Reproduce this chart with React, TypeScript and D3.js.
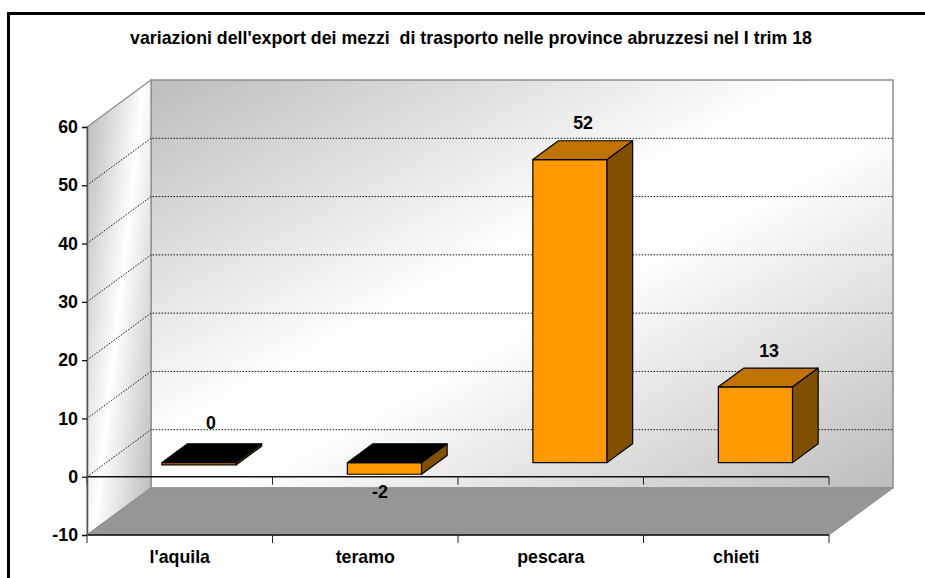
import React, { useEffect, useRef } from "react";
import * as d3 from "d3";

const title = "variazioni dell'export dei mezzi  di trasporto nelle province abruzzesi nel I trim 18";
const categories = ["l'aquila", "teramo", "pescara", "chieti"];
const values = [-0.4, -2, 52, 13];
const yTicks = [-10, 0, 10, 20, 30, 40, 50, 60];

const width = 925;
const height = 578;
const font = "'Liberation Sans', Arial, sans-serif";
const fontSize = 17.75;

// piano frontale e profondita' della scatola 3D
const depthX = 64;
const depthY = -47;
const barGap = 0.3;
const barDepth = 0.4;

const xScale = d3.scaleBand<string>().domain(categories).range([87, 829]).paddingInner(0).paddingOuter(0);
const yScale = d3.scaleLinear().domain([-10, 60]).range([535, 127]);

const pts = (list: number[][]) => list.map((p) => p.join(",")).join(" ");

const YAxis = () => {
  const axisRef = useRef<SVGGElement>(null);

  useEffect(() => {
    const axis = d3.axisLeft(yScale).tickValues(yTicks).tickSize(5).tickPadding(4).tickFormat((d) => String(d));
    const g = d3.select(axisRef.current).call(axis as any);
    g.select(".domain").attr("stroke", "#555").attr("stroke-width", 1.5);
    g.selectAll(".tick line").attr("stroke", "#000").attr("stroke-width", 1.2);
    g.selectAll(".tick text")
      .attr("fill", "#000")
      .style("font", `bold ${fontSize}px ${font}`);
  }, []);

  return <g ref={axisRef} transform="translate(87,0)" />;
};

const Bar = ({ category, value }: { category: string; value: number }) => {
  const band = xScale.bandwidth();
  const barW = band / 2.5;
  const x0 = (xScale(category) as number) + (band - barW) / 2 + depthX * barGap;
  const x1 = x0 + barW;
  const yTop = yScale(Math.max(value, 0)) + depthY * barGap;
  const yBase = yScale(Math.min(value, 0)) + depthY * barGap;
  const dx = depthX * barDepth;
  const dy = depthY * barDepth;
  const negative = value < 0;

  return (
    <g stroke="#000" strokeWidth={1.2} strokeLinejoin="round">
      <polygon points={pts([[x0, yTop], [x1, yTop], [x1, yBase], [x0, yBase]])} fill="#ff9900" />
      <polygon points={pts([[x1, yTop], [x1 + dx, yTop + dy], [x1 + dx, yBase + dy], [x1, yBase]])} fill="#805000" />
      <polygon
        points={pts([[x0, yTop], [x0 + dx, yTop + dy], [x1 + dx, yTop + dy], [x1, yTop]])}
        fill={negative ? "#000" : "#bf7300"}
      />
    </g>
  );
};

const App = () => {
  const left = xScale.range()[0];
  const right = xScale.range()[1];
  const yBottom = yScale(-10);
  const yTopFront = yScale(60);
  const yZero = yScale(0);
  const bandEdges = [left, ...categories.map((c) => (xScale(c) as number) + xScale.bandwidth())];
  const labelPos: Record<string, [number, number]> = {
    "l'aquila": [211, 429],
    teramo: [380, 498],
    pescara: [583, 129],
    chieti: [769, 357],
  };

  return (
    <svg
      width={width}
      height={height}
      style={{ position: "absolute", left: 0, top: 0, background: "#fff" }}
    >
      <defs>
        <linearGradient id="wallBack" x1="0" y1="0" x2="1" y2="1">
          <stop offset="0" stopColor="#bdbdbd" />
          <stop offset="0.45" stopColor="#ffffff" />
          <stop offset="0.55" stopColor="#ffffff" />
          <stop offset="1" stopColor="#bdbdbd" />
        </linearGradient>
        <linearGradient id="wallSide" x1="0" y1="0.1" x2="1" y2="0.9">
          <stop offset="0" stopColor="#bdbdbd" />
          <stop offset="0.5" stopColor="#ffffff" />
          <stop offset="1" stopColor="#bdbdbd" />
        </linearGradient>
      </defs>

      {/* cornice: a destra e in basso esce dall'immagine */}
      <rect x={8.5} y={13.5} width={width + 20} height={height} fill="#fff" stroke="#000" strokeWidth={3} />

      <text
        x={471}
        y={44}
        textAnchor="middle"
        fontFamily={font}
        fontWeight="bold"
        fontSize={fontSize}
        style={{ whiteSpace: "pre" }}
      >
        {title}
      </text>

      {/* pareti */}
      <polygon
        points={pts([[left + depthX, yTopFront + depthY], [right + depthX, yTopFront + depthY], [right + depthX, yBottom + depthY], [left + depthX, yBottom + depthY]])}
        fill="url(#wallBack)"
        stroke="#8c8c8c"
        strokeWidth={1.5}
      />
      <polygon
        points={pts([[left, yTopFront], [left + depthX, yTopFront + depthY], [left + depthX, yBottom + depthY], [left, yBottom]])}
        fill="url(#wallSide)"
        stroke="#8c8c8c"
        strokeWidth={1.2}
      />
      <polygon
        points={pts([[left, yBottom], [left + depthX, yBottom + depthY], [right + depthX, yBottom + depthY], [right, yBottom]])}
        fill="#969696"
        stroke="#8c8c8c"
        strokeWidth={1}
      />

      {/* griglia */}
      {yTicks
        .filter((t) => t >= 0 && t < 60)
        .map((t) => (
          <polyline
            key={t}
            points={pts([[left, yScale(t)], [left + depthX, yScale(t) + depthY], [right + depthX, yScale(t) + depthY]])}
            fill="none"
            stroke="#111"
            strokeWidth={1}
            strokeDasharray="1.5 1.5"
          />
        ))}

      {/* asse dello zero e asse inferiore */}
      <line x1={left} x2={right} y1={yZero} y2={yZero} stroke="#111" strokeWidth={1.5} />
      <line x1={left} x2={right} y1={yBottom} y2={yBottom} stroke="#111" strokeWidth={1.5} />
      {bandEdges.map((x) => (
        <g key={x} stroke="#222" strokeWidth={1}>
          <line x1={x} x2={x} y1={yZero} y2={yZero + 8} />
          <line x1={x} x2={x} y1={yBottom} y2={yBottom + 8} />
        </g>
      ))}

      <YAxis />

      {categories.map((c, i) => (
        <Bar key={c} category={c} value={values[i]} />
      ))}

      {categories.map((c, i) => (
        <text
          key={c}
          x={labelPos[c][0]}
          y={labelPos[c][1]}
          textAnchor="middle"
          fontFamily={font}
          fontWeight="bold"
          fontSize={fontSize}
        >
          {String(Math.round(values[i]))}
        </text>
      ))}

      {categories.map((c) => (
        <text
          key={c}
          x={(xScale(c) as number) + xScale.bandwidth() / 2}
          y={563}
          textAnchor="middle"
          fontFamily={font}
          fontWeight="bold"
          fontSize={fontSize}
        >
          {c}
        </text>
      ))}
    </svg>
  );
};

export default App;
